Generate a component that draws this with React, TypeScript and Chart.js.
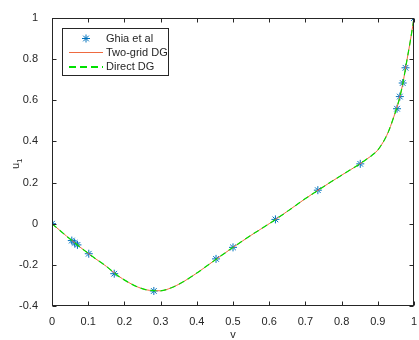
import React, { useEffect, useRef } from "react";
import { Chart, registerables } from "chart.js";

Chart.register(...registerables);

// Ghia et al reference points
const ghiaV = [0, 0.0547, 0.0625, 0.0703, 0.1016, 0.1719, 0.2813, 0.4531, 0.5, 0.6172, 0.7344, 0.8516, 0.9531, 0.9609, 0.9688, 0.9766, 1];
const ghiaU = [0, -0.082, -0.093, -0.103, -0.146, -0.243, -0.327, -0.171, -0.115, 0.021, 0.163, 0.291, 0.559, 0.618, 0.684, 0.758, 1];

// DG curves
const curveV = [0, 0.02, 0.04, 0.06, 0.08, 0.1, 0.12, 0.15, 0.18, 0.21, 0.24, 0.27, 0.3, 0.33, 0.36, 0.4, 0.45, 0.5, 0.55, 0.6, 0.65, 0.7, 0.75, 0.8, 0.85, 0.86, 0.87, 0.88, 0.89, 0.9, 0.91, 0.92, 0.93, 0.94, 0.95, 0.96, 0.97, 0.98, 0.99, 1];
const twoGridU = [0, -0.03, -0.06, -0.089, -0.117, -0.144, -0.17, -0.207, -0.25, -0.284, -0.31, -0.324, -0.326, -0.311, -0.285, -0.24, -0.177, -0.115, -0.056, 0.0, 0.06, 0.122, 0.18, 0.236, 0.29, 0.302, 0.315, 0.327, 0.341, 0.358, 0.383, 0.413, 0.45, 0.498, 0.55, 0.61, 0.69, 0.79, 0.89, 1];
const directU = [0, -0.03, -0.06, -0.089, -0.117, -0.144, -0.17, -0.207, -0.25, -0.284, -0.31, -0.324, -0.326, -0.311, -0.285, -0.24, -0.177, -0.115, -0.056, 0.0, 0.06, 0.122, 0.18, 0.236, 0.29, 0.302, 0.315, 0.327, 0.341, 0.358, 0.383, 0.413, 0.45, 0.498, 0.55, 0.61, 0.69, 0.79, 0.89, 1];

const xTicks = [0, 0.1, 0.2, 0.3, 0.4, 0.5, 0.6, 0.7, 0.8, 0.9, 1];
const xTickLabels = ["0", "0.1", "0.2", "0.3", "0.4", "0.5", "0.6", "0.7", "0.8", "0.9", "1"];
const yTicks = [-0.4, -0.2, 0, 0.2, 0.4, 0.6, 0.8, 1];
const yTickLabels = ["-0.4", "-0.2", "0", "0.2", "0.4", "0.6", "0.8", "1"];

const legendLabels = ["Ghia et al", "Two-grid DG", "Direct DG"];

const FONT = "'Liberation Sans', Arial, Helvetica, sans-serif";
const AXIS = "#262626";
const BLUE = "#0072BD";
const ORANGE = "#EE6A40";
const GREEN = "#00E000";

function drawStar(ctx: CanvasRenderingContext2D, x: number, y: number, r: number) {
  ctx.beginPath();
  ctx.moveTo(x - r, y);
  ctx.lineTo(x + r, y);
  ctx.moveTo(x, y - r);
  ctx.lineTo(x, y + r);
  const d = r * Math.SQRT1_2;
  ctx.moveTo(x - d, y - d);
  ctx.lineTo(x + d, y + d);
  ctx.moveTo(x - d, y + d);
  ctx.lineTo(x + d, y - d);
  ctx.stroke();
}

const framePlugin = {
  id: "frame",
  afterDraw(chart: any) {
    const ctx = chart.ctx as CanvasRenderingContext2D;
    const { left, right, top, bottom } = chart.chartArea;
    const xs = chart.scales.x;
    const ys = chart.scales.y;
    ctx.save();
    ctx.strokeStyle = AXIS;
    ctx.lineWidth = 1;
    const L = Math.round(left) + 0.5;
    const R = Math.round(right) - 0.5;
    const T = Math.round(top) + 0.5;
    const B = Math.round(bottom) - 0.5;
    ctx.strokeRect(L, T, R - L, B - T);
    const tl = 4;
    ctx.beginPath();
    xTicks.forEach((v) => {
      const px = Math.round(xs.getPixelForValue(v)) + 0.5;
      ctx.moveTo(px, B);
      ctx.lineTo(px, B - tl);
      ctx.moveTo(px, T);
      ctx.lineTo(px, T + tl);
    });
    yTicks.forEach((v) => {
      const py = Math.round(ys.getPixelForValue(v)) + 0.5;
      ctx.moveTo(L, py);
      ctx.lineTo(L + tl, py);
      ctx.moveTo(R, py);
      ctx.lineTo(R - tl, py);
    });
    ctx.stroke();

    // axis labels
    ctx.fillStyle = AXIS;
    ctx.font = `11px ${FONT}`;
    ctx.textAlign = "center";
    ctx.textBaseline = "alphabetic";
    ctx.fillText("v", (left + right) / 2, 338);

    ctx.save();
    ctx.translate(19, 163);
    ctx.rotate(-Math.PI / 2);
    ctx.textAlign = "left";
    ctx.font = `11px ${FONT}`;
    ctx.fillText("u", -6, 0);
    const w = ctx.measureText("u").width;
    ctx.font = `8px ${FONT}`;
    ctx.fillText("1", -6 + w, 3);
    ctx.restore();

    // legend
    const bx = 62.5, by = 28.5, bw = 106, bh = 47;
    ctx.fillStyle = "#ffffff";
    ctx.fillRect(bx, by, bw, bh);
    ctx.strokeStyle = AXIS;
    ctx.strokeRect(bx, by, bw, bh);
    const rows = [38.5, 52.5, 67];
    ctx.strokeStyle = BLUE;
    drawStar(ctx, 86, rows[0], 4);
    ctx.strokeStyle = ORANGE;
    ctx.beginPath();
    ctx.moveTo(69, rows[1]);
    ctx.lineTo(103, rows[1]);
    ctx.stroke();
    ctx.strokeStyle = GREEN;
    ctx.lineWidth = 2;
    ctx.setLineDash([7, 4]);
    ctx.beginPath();
    ctx.moveTo(69, rows[2]);
    ctx.lineTo(103, rows[2]);
    ctx.stroke();
    ctx.setLineDash([]);
    ctx.lineWidth = 1;
    ctx.fillStyle = AXIS;
    ctx.font = `11px ${FONT}`;
    ctx.textAlign = "left";
    ctx.textBaseline = "middle";
    legendLabels.forEach((t, i) => ctx.fillText(t, 106, rows[i]));
    ctx.restore();
  },
};

export default function App() {
  const ref = useRef<HTMLCanvasElement | null>(null);
  useEffect(() => {
    if (!ref.current) return;
    const chart = new Chart(ref.current, {
      type: "scatter",
      data: {
        datasets: [
          {
            label: legendLabels[0],
            data: ghiaV.map((v, i) => ({ x: v, y: ghiaU[i] })),
            pointStyle: "star",
            pointRadius: 4,
            pointBorderWidth: 1,
            borderColor: BLUE,
            backgroundColor: BLUE,
            showLine: false,
            order: 3,
          },
          {
            label: legendLabels[1],
            data: curveV.map((v, i) => ({ x: v, y: twoGridU[i] })),
            showLine: true,
            pointRadius: 0,
            borderColor: ORANGE,
            borderWidth: 1,
            cubicInterpolationMode: "monotone",
            order: 2,
          },
          {
            label: legendLabels[2],
            data: curveV.map((v, i) => ({ x: v, y: directU[i] })),
            showLine: true,
            pointRadius: 0,
            borderColor: GREEN,
            borderWidth: 1.2,
            borderDash: [6, 4],
            cubicInterpolationMode: "monotone",
            order: 1,
          },
        ],
      },
      options: {
        animation: false,
        responsive: false,
        layout: { padding: { left: 0, right: 2, top: 18, bottom: 0 } },
        plugins: { legend: { display: false }, tooltip: { enabled: false } },
        scales: {
          x: {
            type: "linear",
            min: 0,
            max: 1,
            grid: { display: false },
            border: { display: false },
            afterBuildTicks: (s: any) => {
              s.ticks = xTicks.map((v) => ({ value: v }));
            },
            afterFit: (s: any) => {
              s.height = 34;
            },
            ticks: {
              padding: 1,
              color: AXIS,
              font: { family: FONT, size: 11 },
              maxRotation: 0,
              autoSkip: false,
              callback: (v: any) => {
                const i = xTicks.findIndex((t) => Math.abs(t - v) < 1e-6);
                return i >= 0 ? xTickLabels[i] : "";
              },
            },
          },
          y: {
            type: "linear",
            min: -0.4,
            max: 1,
            grid: { display: false },
            border: { display: false },
            afterBuildTicks: (s: any) => {
              s.ticks = yTicks.map((v) => ({ value: v }));
            },
            afterFit: (s: any) => {
              s.width = 52;
            },
            ticks: {
              padding: 6,
              color: AXIS,
              font: { family: FONT, size: 11 },
              autoSkip: false,
              callback: (v: any) => {
                const i = yTicks.findIndex((t) => Math.abs(t - v) < 1e-6);
                return i >= 0 ? yTickLabels[i] : "";
              },
            },
          },
        },
      },
      plugins: [framePlugin],
    });
    return () => chart.destroy();
  }, []);
  return (
    <div style={{ position: "absolute", left: 0, top: 0, width: 419, height: 340, background: "#fff" }}>
      <canvas ref={ref} width={419} height={340} style={{ display: "block" }} />
    </div>
  );
}
